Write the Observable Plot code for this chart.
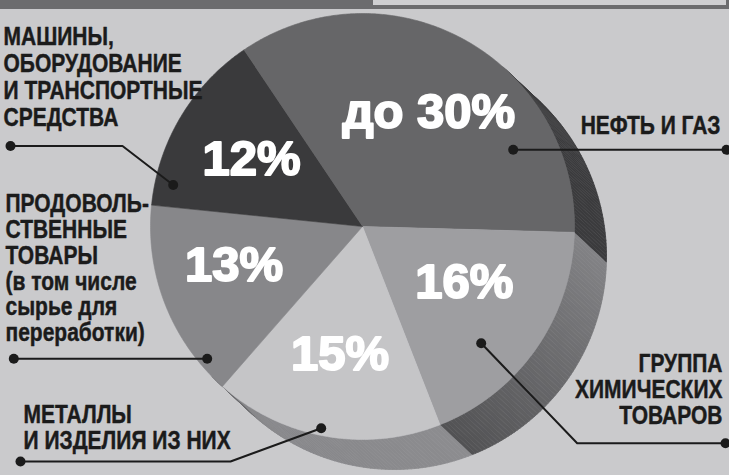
<!DOCTYPE html>
<html><head><meta charset="utf-8">
<script src="https://cdn.jsdelivr.net/npm/d3@7"></script>
<script src="https://cdn.jsdelivr.net/npm/@observablehq/plot@0.6"></script>
<style>
html,body{margin:0;padding:0;background:#cacacc;}
#chart{width:729px;height:475px;overflow:hidden;}
</style></head><body><div id="chart"></div>
<script>
// ---- data ----
const categories = ["НЕФТЬ И ГАЗ", "ГРУППА ХИМИЧЕСКИХ ТОВАРОВ", "МЕТАЛЛЫ И ИЗДЕЛИЯ ИЗ НИХ", "ПРОДОВОЛЬСТВЕННЫЕ ТОВАРЫ", "МАШИНЫ, ОБОРУДОВАНИЕ И ТРАНСПОРТНЫЕ СРЕДСТВА"];
const shares = [30, 16, 15, 13, 12];
const valueLabels = ["до 30%", "16%", "15%", "13%", "12%"];
const labelLines = [
  ["НЕФТЬ И ГАЗ"],
  ["ГРУППА", "ХИМИЧЕСКИХ", "ТОВАРОВ"],
  ["МЕТАЛЛЫ", "И ИЗДЕЛИЯ ИЗ НИХ"],
  ["ПРОДОВОЛЬ-", "СТВЕННЫЕ", "ТОВАРЫ", "(в том числе", "сырье для", "переработки)"],
  ["МАШИНЫ,", "ОБОРУДОВАНИЕ", "И ТРАНСПОРТНЫЕ", "СРЕДСТВА"]
];

// ---- layout / style ----
const W = 729, H = 475;
const pie = {cx: 362, cy: 226, rx: 212, ry: 213, depthX: 32, depthY: 30, startDeg: -34, labelR: 0.61};
const topColors = ["#666668", "#9e9ea1", "#c5c5c7", "#87878a", "#3a3a3c"];
const sideColors = [["#3d3d3f", "#3b3b3d"], ["#838386", "#525254"], ["#8c8c8f", "#858588"], ["#6a6a6c", "#6a6a6c"], ["#2e2e30", "#2e2e30"]];
const valueNudge = [[4, 0], [-4, -19], [0, 0], [-8, -9], [0, 0]];
const blocks = [
  {x: 720, y: 133, step: 26, anchor: "end"},
  {x: 722, y: 371, step: 26, anchor: "end"},
  {x: 23, y: 422.5, step: 25.8, anchor: "start"},
  {x: 5, y: 211.7, step: 25.8, anchor: "start"},
  {x: 3, y: 44.3, step: 26.9, anchor: "start"}
];
const leaders = [
  [[512.7, 149.3], [726, 149.3]],
  [[480.7, 342.7], [576.7, 442.7], [725, 442.7]],
  [[320.7, 427.7], [230, 461], [20, 461]],
  [[206.7, 358.3], [13.3, 358.3]],
  [[172.7, 184.5], [122, 145.5], [10, 145.5]]
];
const ink = "#1b1b1b";
const labelFont = "'Liberation Sans', Arial, sans-serif";
const labelSize = 25;
const condense = 0.84;

// ---- geometry from data ----
const a0 = pie.startDeg * Math.PI / 180;
const arcs = d3.pie().sort(null).value(d => d).startAngle(a0).endAngle(a0 + 2 * Math.PI)(shares);
const px = (a, r = 1) => pie.cx + pie.rx * r * Math.sin(a);
const py = (a, r = 1) => pie.cy - pie.ry * r * Math.cos(a);
const dir = Math.atan2(pie.depthX, -pie.depthY);

const topPts = [];
arcs.forEach((a, i) => {
  const n = Math.max(2, Math.ceil((a.endAngle - a.startAngle) / (Math.PI / 360)));
  topPts.push({k: i, x: pie.cx, y: pie.cy, c: topColors[i]});
  for (let j = 0; j <= n; j++) {
    const t = a.startAngle + (a.endAngle - a.startAngle) * j / n;
    topPts.push({k: i, x: px(t), y: py(t), c: topColors[i]});
  }
});

const sidePts = [];
arcs.forEach((a, i) => {
  const n = Math.max(2, Math.ceil((a.endAngle - a.startAngle) / (Math.PI / 180)));
  const interp = d3.interpolateRgb(sideColors[i][0], sideColors[i][1]);
  for (let j = 0; j < n; j++) {
    const t0 = a.startAngle + (a.endAngle - a.startAngle) * j / n;
    const t1 = a.startAngle + (a.endAngle - a.startAngle) * (j + 1) / n;
    const tm = (t0 + t1) / 2;
    if (Math.cos(tm - dir) < -0.03) continue;
    const c = interp((j + 0.5) / n);
    const k = i + "-" + j;
    sidePts.push({k, c, x: px(t0), y: py(t0)});
    sidePts.push({k, c, x: px(t1), y: py(t1)});
    sidePts.push({k, c, x: px(t1) + pie.depthX, y: py(t1) + pie.depthY});
    sidePts.push({k, c, x: px(t0) + pie.depthX, y: py(t0) + pie.depthY});
  }
});

const valueRows = arcs.map((a, i) => {
  const m = (a.startAngle + a.endAngle) / 2;
  return {text: valueLabels[i], x: px(m, pie.labelR) + valueNudge[i][0], y: py(m, pie.labelR) + valueNudge[i][1]};
});

const labelRows = [];
labelLines.forEach((lines, i) => {
  lines.forEach((t, j) => labelRows.push({text: t, x: blocks[i].x, y: blocks[i].y + j * blocks[i].step, anchor: blocks[i].anchor, cat: categories[i]}));
});

const leaderPts = [];
const leaderDots = [];
leaders.forEach((pts, i) => {
  pts.forEach(p => leaderPts.push({k: i, x: p[0], y: p[1]}));
  leaderDots.push({x: pts[0][0], y: pts[0][1]});
  leaderDots.push({x: pts[pts.length - 1][0], y: pts[pts.length - 1][1]});
});

const labelStyle = {x: "x", y: "y", text: "text", lineAnchor: "bottom", fontFamily: labelFont, fontWeight: "bold",
  fontSize: labelSize, fill: ink, stroke: ink, strokeWidth: 0.45, className: "cond"};

const chart = Plot.plot({
  width: W, height: H, margin: 0,
  x: {domain: [0, W], range: [0, W], axis: null},
  y: {domain: [0, H], range: [0, H], axis: null},
  color: {type: "identity"},
  style: {background: "#cacacc", overflow: "hidden"},
  marks: [
    Plot.rect([0], {x1: 0, x2: W, y1: 0, y2: 9, fill: "#6c6c6e"}),
    Plot.rect([0], {x1: 373, x2: 726, y1: 0, y2: 5, fill: "#cfcfd1"}),
    Plot.line(sidePts, {x: "x", y: "y", z: "k", fill: "c", stroke: "c", strokeWidth: 0.8}),
    Plot.line(topPts, {x: "x", y: "y", z: "k", fill: "c", stroke: "c", strokeWidth: 0.6}),
    Plot.text(valueRows, {x: "x", y: "y", text: "text", lineAnchor: "middle", textAnchor: "middle",
      fontFamily: "'Liberation Sans', Arial, sans-serif", fontWeight: "bold", fontSize: 49,
      fill: "white", stroke: "white", strokeWidth: 2}),
    Plot.line(leaderPts, {x: "x", y: "y", z: "k", stroke: ink, strokeWidth: 2}),
    Plot.dot(leaderDots, {x: "x", y: "y", r: 5, fill: ink}),
    Plot.text(labelRows.filter(d => d.anchor === "start"), {...labelStyle, textAnchor: "start"}),
    Plot.text(labelRows.filter(d => d.anchor === "end"), {...labelStyle, textAnchor: "end"})
  ]
});

// condensed lettering: scale each label horizontally about its own anchor
d3.select(chart).selectAll(".cond text").each(function () {
  const el = d3.select(this);
  let tf = el.attr("transform") || "";
  const x = el.attr("x"), y = el.attr("y");
  if (x != null || y != null) {
    tf = `translate(${+x || 0},${+y || 0}) ` + tf;
    el.attr("x", null).attr("y", null);
  }
  el.attr("transform", tf + ` scale(${condense},1)`);
});
document.getElementById("chart").appendChild(chart);
</script>
</body></html>
